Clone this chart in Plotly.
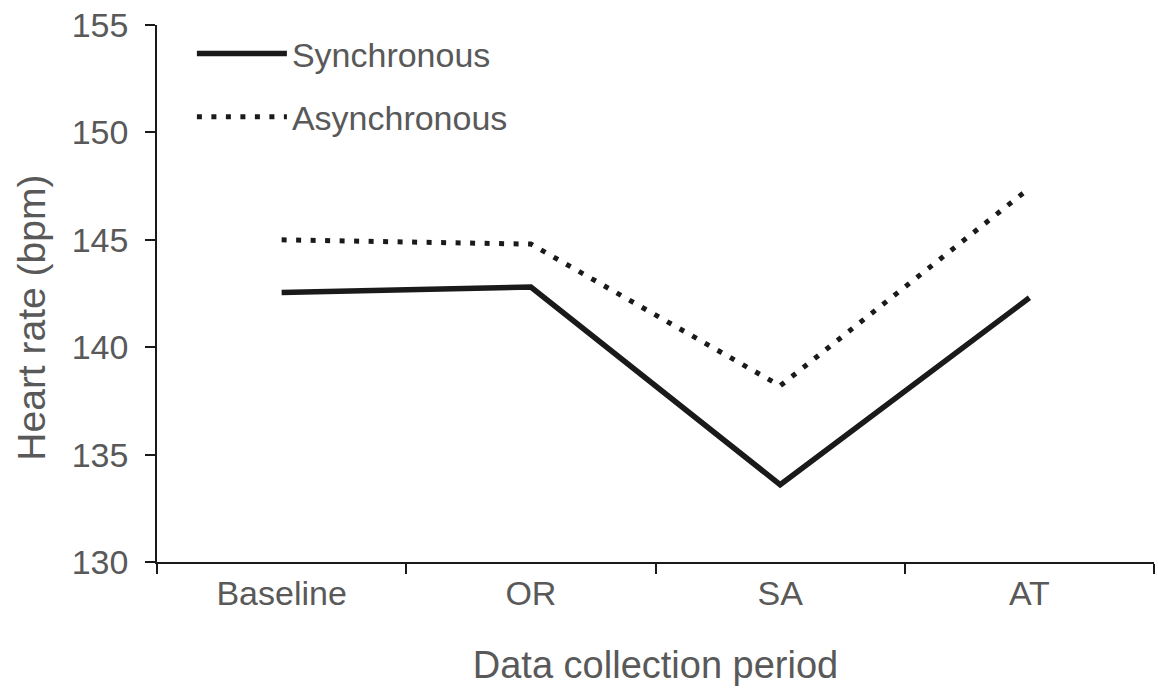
import plotly.graph_objects as go

categories = ["Baseline", "OR", "SA", "AT"]
synchronous = [142.55, 142.8, 133.6, 142.3]
asynchronous = [145.0, 144.8, 138.2, 147.4]
y_ticks = [130, 135, 140, 145, 150, 155]

FONT = "Liberation Sans, Arial, sans-serif"
GRAY = "#595959"

fig = go.Figure()
fig.add_trace(go.Scatter(
    x=categories, y=synchronous, mode="lines", name="Synchronous",
    legendgroup="s",
    line=dict(color="#1a1a1a", width=5.5),
))
fig.add_trace(go.Scatter(
    x=categories, y=asynchronous, mode="lines", name="Asynchronous",
    legendgroup="a",
    line=dict(color="#1a1a1a", width=5, dash="5px,9.5px"),
))

fig.update_layout(
    width=1158, height=690,
    margin=dict(l=157, r=4, t=25, b=128),
    paper_bgcolor="white", plot_bgcolor="white",
    font=dict(family=FONT, color=GRAY, size=34),
    showlegend=True,
    legend=dict(
        x=0.035, y=1.0, xanchor="left", yanchor="top",
        font=dict(family=FONT, size=34, color=GRAY),
        itemwidth=90, tracegroupgap=16,
        bgcolor="rgba(0,0,0,0)",
        traceorder="grouped",
    ),
    xaxis=dict(
        type="category",
        range=[-0.5, 3.5],
        showline=True, linecolor="#1a1a1a", linewidth=2,
        ticks="outside", ticklen=10, tickcolor="#1a1a1a", tickwidth=1.5,
        tickson="boundaries",
        showgrid=False, zeroline=False,
        tickfont=dict(family=FONT, size=34, color=GRAY),
        title=dict(text="Data collection period",
                   font=dict(family=FONT, size=38, color=GRAY), standoff=41),
    ),
    yaxis=dict(
        range=[130, 155],
        tickvals=y_ticks,
        showline=True, linecolor="#1a1a1a", linewidth=1.5,
        ticks="outside", ticklen=10, tickcolor="#1a1a1a", tickwidth=1.5,
        showgrid=False, zeroline=False,
        tickfont=dict(family=FONT, size=34, color=GRAY),
        ticklabelstandoff=10,
    ),
    annotations=[dict(
        text="Heart rate (bpm)", textangle=-90,
        xref="paper", yref="paper", x=0, y=0.455,
        xanchor="center", yanchor="middle", xshift=-125, showarrow=False,
        font=dict(family=FONT, size=39, color=GRAY),
    )],
)

fig.write_html("out.html", config={"displayModeBar": False},
               post_script="document.body.style.margin='0';")
